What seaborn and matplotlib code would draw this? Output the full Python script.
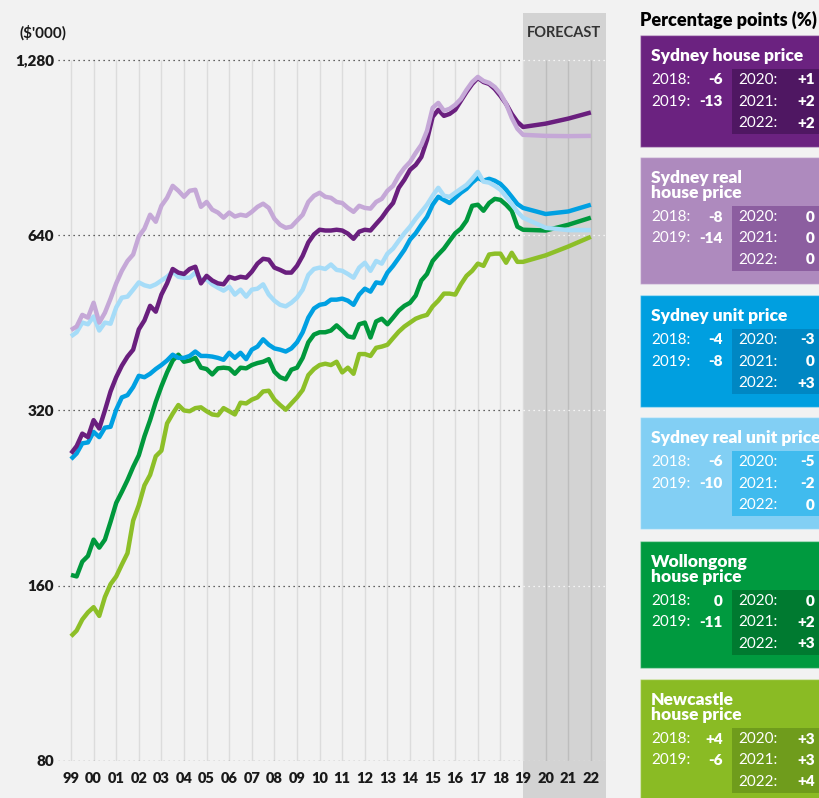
import numpy as np
import pandas as pd
import matplotlib
matplotlib.use('Agg')
import matplotlib.pyplot as plt
from matplotlib.patches import Rectangle
from matplotlib.ticker import NullLocator
import seaborn as sns

# Time axis: quarterly history, then annual forecast
quarters = list(np.arange(1999, 2019.01, 0.25))
forecast_years = [2020, 2021, 2022]
years = quarters + forecast_years

# Prices ($'000)
sydney_house = [
    270, 278, 292, 288, 308, 298, 320, 345, 365, 382, 396, 407,
    441, 457, 484, 473, 506, 529, 560, 552, 549, 560, 565, 529,
    545, 535, 529, 527, 543, 539, 543, 541, 554, 572, 583, 581,
    563, 558, 552, 552, 567, 590, 622, 642, 654, 652, 652, 654,
    652, 644, 631, 649, 654, 652, 669, 686, 708, 727, 772, 797,
    829, 845, 872, 933, 1022, 1051, 1026, 1034, 1051, 1089, 1128, 1164,
    1192, 1173, 1164, 1141, 1110, 1076, 1034, 1002, 982,
    995, 1015, 1040]
sydney_real_house = [
    440, 446, 467, 462, 490, 453, 471, 498, 529, 556, 578, 593,
    637, 657, 694, 675, 719, 742, 778, 763, 745, 763, 766, 716,
    730, 708, 700, 686, 700, 689, 694, 691, 702, 716, 725, 713,
    683, 667, 659, 662, 678, 694, 730, 748, 757, 745, 742, 730,
    727, 713, 702, 719, 713, 711, 730, 739, 763, 778, 810, 835,
    855, 886, 915, 967, 1059, 1080, 1047, 1055, 1072, 1097, 1137, 1173,
    1197, 1178, 1169, 1150, 1120, 1076, 1018, 975, 952,
    948, 947, 948]
sydney_unit = [
    264, 270, 281, 282, 294, 288, 299, 300, 321, 337, 340, 351,
    367, 365, 370, 377, 383, 390, 399, 394, 394, 397, 404, 397,
    397, 396, 394, 391, 402, 394, 402, 392, 407, 412, 424, 415,
    409, 407, 404, 409, 419, 436, 462, 479, 486, 488, 496, 496,
    498, 494, 486, 506, 518, 512, 531, 529, 552, 567, 585, 604,
    629, 645, 667, 688, 722, 745, 736, 727, 742, 757, 769, 788,
    803, 794, 800, 794, 784, 766, 745, 724, 713,
    696, 703, 722]
sydney_real_unit = [
    429, 436, 453, 450, 464, 439, 453, 451, 481, 500, 502, 516,
    531, 525, 522, 527, 535, 543, 554, 543, 541, 541, 552, 537,
    537, 527, 520, 514, 522, 506, 516, 502, 516, 518, 527, 506,
    494, 486, 483, 490, 500, 516, 547, 560, 563, 560, 570, 558,
    556, 549, 541, 563, 574, 556, 578, 572, 595, 607, 626, 645,
    662, 683, 702, 722, 748, 772, 748, 745, 757, 769, 781, 800,
    822, 791, 788, 778, 766, 745, 724, 702, 686,
    659, 653, 653]
wollongong_house = [
    167, 166, 176, 180, 192, 186, 192, 206, 222, 232, 243, 256,
    268, 289, 308, 331, 352, 372, 390, 399, 388, 390, 394, 379,
    377, 369, 378, 379, 378, 370, 379, 378, 383, 386, 388, 392,
    373, 365, 362, 376, 379, 394, 419, 432, 436, 436, 439, 448,
    439, 429, 427, 450, 453, 427, 455, 460, 450, 462, 475, 484,
    490, 504, 535, 549, 578, 593, 607, 626, 645, 657, 678, 719,
    722, 705, 727, 739, 736, 722, 705, 662, 654,
    652, 667, 686]
newcastle_house = [
    131, 134, 140, 144, 147, 142, 153, 161, 166, 174, 182, 207,
    220, 238, 248, 267, 273, 304, 316, 327, 320, 319, 323, 324,
    319, 315, 314, 323, 319, 315, 330, 329, 334, 337, 345, 346,
    334, 327, 321, 329, 337, 347, 368, 377, 383, 385, 383, 388,
    372, 379, 370, 400, 400, 397, 410, 412, 415, 426, 437, 446,
    453, 460, 464, 467, 483, 494, 508, 508, 506, 527, 545, 556,
    572, 567, 593, 595, 595, 574, 597, 576, 576,
    591, 612, 636]

series = {
    'Newcastle house price': newcastle_house,
    'Wollongong house price': wollongong_house,
    'Sydney unit price': sydney_unit,
    'Sydney real unit price': sydney_real_unit,
    'Sydney house price': sydney_house,
    'Sydney real house price': sydney_real_house,
}
line_colors = {
    'Newcastle house price': '#8dbf28',
    'Wollongong house price': '#00983c',
    'Sydney unit price': '#00a0e2',
    'Sydney real unit price': '#a6dcf8',
    'Sydney house price': '#6a1f7e',
    'Sydney real house price': '#c5a8d7',
}

y_ticks = [80, 160, 320, 640, 1280]
y_tick_labels = ['80', '160', '320', '640', '1,280']
x_ticks = list(range(1999, 2023))
x_tick_labels = [str(y)[-2:] for y in x_ticks]

# Side panel content (percentage point changes)
panel_titles = ['Sydney house price', 'Sydney real\nhouse price', 'Sydney unit price',
                'Sydney real unit price', 'Wollongong\nhouse price', 'Newcastle\nhouse price']
chg_2018 = ['-6', '-8', '-4', '-6', '0', '+4']
chg_2019 = ['-13', '-14', '-8', '-10', '-11', '-6']
chg_2020 = ['+1', '0', '-3', '-5', '0', '+3']
chg_2021 = ['+2', '0', '0', '-2', '+2', '+3']
chg_2022 = ['+2', '0', '+3', '0', '+3', '+4']
box_colors = ['#6b2280', '#ae8abe', '#009fe0', '#82cff4', '#009a3f', '#8abb24']
inner_colors = ['#4f1762', '#8c5ea0', '#0087c3', '#40bbee', '#007a30', '#6f9c1c']
box_tops = [35, 157, 295, 417, 541, 679]

df = pd.DataFrame([
    {'year': yr, 'value': v, 'series': name}
    for name, vals in series.items() for yr, v in zip(years, vals)
])

sns.set_style('white')
plt.rcParams['font.family'] = ['Lato', 'DejaVu Sans']
bg = '#f2f2f2'
ink = '#1a1a1a'

fig = plt.figure(figsize=(8.19, 7.98), dpi=100, facecolor=bg)
ax = fig.add_axes([58 / 819, 37 / 798, 548 / 819, 748.3 / 798])
ax.set_facecolor(bg)

x_left, x_right = 1998.425, 2022.67
ax.set_xlim(x_left, x_right)
ax.set_yscale('log', base=2)
ax.set_ylim(80, 1543)

# forecast shading
ax.axvspan(2019, x_right, ymin=-0.06, ymax=1, color='#d3d3d3', lw=0, zorder=0, clip_on=False)

# vertical year lines
ax.vlines([y for y in x_ticks if y <= 2019], 80, 1280, colors='#dcdcdc', lw=1, zorder=1)
ax.vlines([y for y in x_ticks if y > 2019], 80, 1280, colors='#bdbdbd', lw=1, zorder=1)

# dotted horizontal gridlines
ax.hlines(y_ticks, x_left, 2019, colors='#333333', lw=0.9, linestyles=(0, (1, 3)), zorder=1)
ax.hlines(y_ticks, 2019, x_right, colors='white', lw=0.9, linestyles=(0, (1, 3)), zorder=1)

sns.lineplot(data=df, x='year', y='value', hue='series', hue_order=list(series.keys()),
             palette=line_colors, lw=3.2, legend=False, sort=False, estimator=None, ax=ax)
for ln in ax.lines:
    ln.set_solid_joinstyle('round')
    ln.set_solid_capstyle('butt')
    ln.set_zorder(3)

ax.set_yticks(y_ticks)
ax.set_yticklabels(y_tick_labels, fontsize=11, fontweight='heavy', color=ink)
ax.yaxis.set_minor_locator(NullLocator())
ax.set_xticks(x_ticks)
ax.set_xticklabels(x_tick_labels, fontsize=10.5, fontweight='heavy', color=ink)
ax.tick_params(axis='y', length=0, pad=3)
ax.tick_params(axis='x', length=0, pad=8)
ax.set_xlabel('')
ax.set_ylabel('')
for s in ax.spines.values():
    s.set_visible(False)

# overlay in pixel coordinates for annotations and side panel
ov = fig.add_axes([0, 0, 1, 1], facecolor='none')
ov.set_xlim(0, 819)
ov.set_ylim(798, 0)
ov.axis('off')

ov.text(20, 33, "($'000)", fontsize=11, fontweight='bold', color=ink, va='center', ha='left')
ov.text(564, 33, 'FORECAST', fontsize=10.5, fontweight='bold', color='#333333', va='center', ha='center')
ov.text(640, 20, 'Percentage points (%)', fontsize=13, fontweight='heavy', color='black', va='center', ha='left')

for i, title in enumerate(panel_titles):
    top = box_tops[i]
    lines = title.split('\n')
    row0 = top + (60 if len(lines) > 1 else 45)
    rows = [row0, row0 + 21.5, row0 + 43]
    ov.add_patch(Rectangle((640, top), 200, rows[2] + 24 - top, facecolor=box_colors[i],
                           edgecolor=(1, 1, 1, 0.35), lw=1))
    ov.add_patch(Rectangle((732, rows[0] - 11), 100, 56 + 11 - 2, facecolor=inner_colors[i],
                           edgecolor='none'))
    for k, line in enumerate(lines):
        ov.text(651, top + 21 + 15 * k, line, fontsize=12.5, fontweight='heavy', color='white',
                va='center', ha='left')
    left_rows = [('2018:', chg_2018[i]), ('2019:', chg_2019[i])]
    right_rows = [('2020:', chg_2020[i]), ('2021:', chg_2021[i]), ('2022:', chg_2022[i])]
    for (lab, val), yy in zip(left_rows, rows):
        ov.text(651, yy, lab, fontsize=11, color='white', va='center', ha='left')
        ov.text(723, yy, val, fontsize=11, fontweight='heavy', color='white', va='center', ha='right')
    for (lab, val), yy in zip(right_rows, rows):
        ov.text(738, yy, lab, fontsize=11, color='white', va='center', ha='left')
        ov.text(815, yy, val, fontsize=11, fontweight='heavy', color='white', va='center', ha='right')

fig.savefig('out.png', dpi=100, facecolor=bg)
